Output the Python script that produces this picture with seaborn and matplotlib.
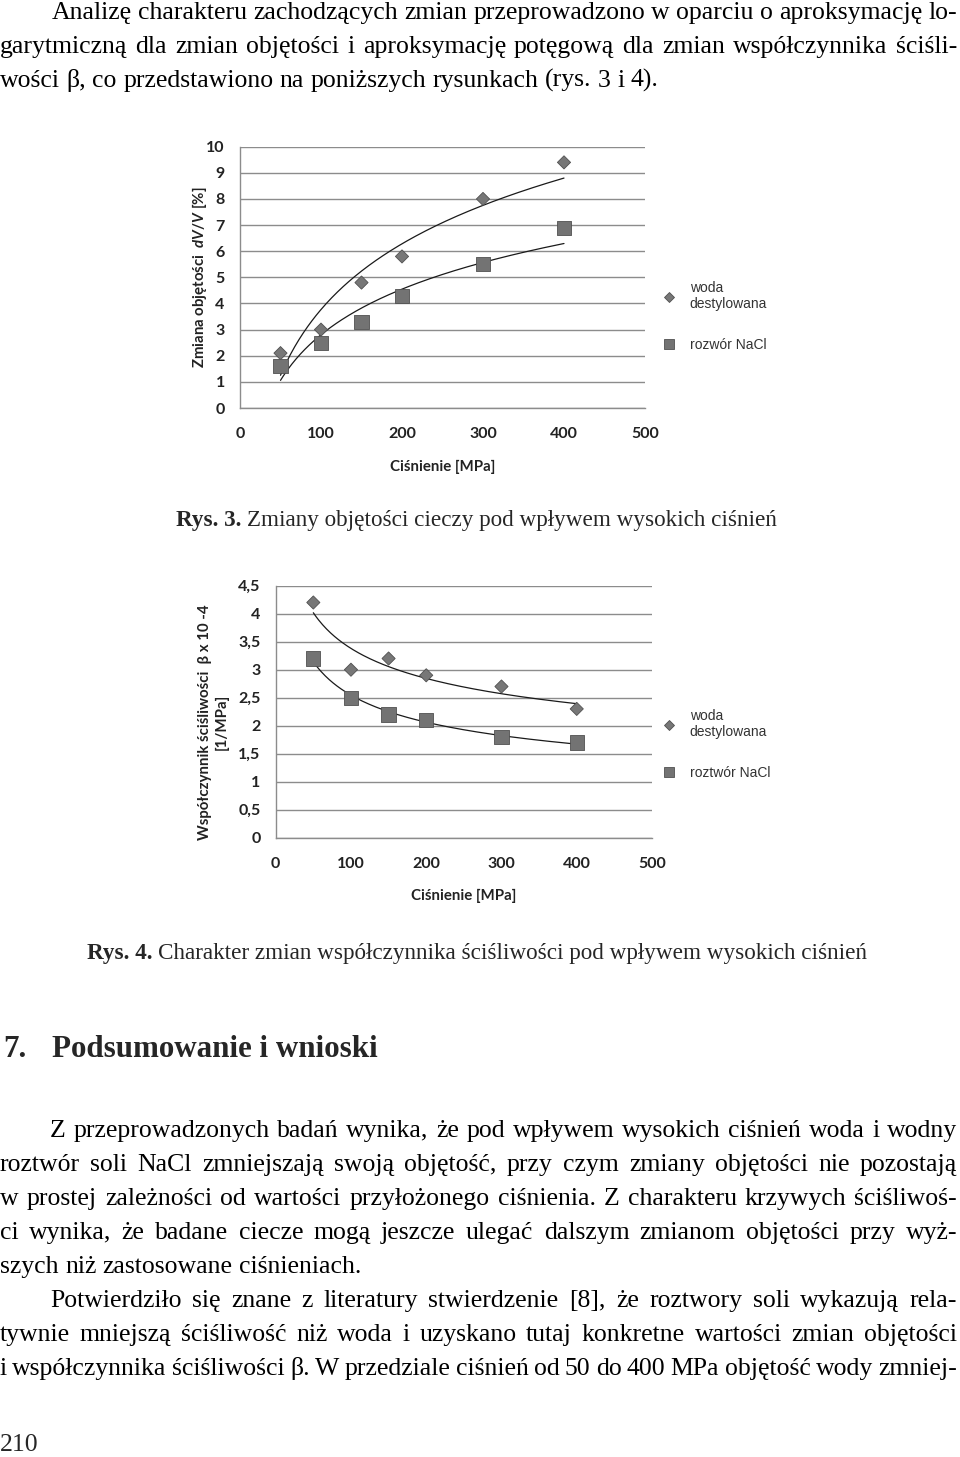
import numpy as np
import pandas as pd
import matplotlib
import matplotlib.pyplot as plt
import matplotlib.ticker as mticker
import seaborn as sns
matplotlib.use("Agg")

# --- data ---
pressure = [50, 100, 150, 200, 300, 400]
dv_water = [2.1, 3.0, 4.8, 5.8, 8.0, 9.4]
dv_nacl = [1.6, 2.5, 3.3, 4.3, 5.5, 6.9]
beta_water = [4.2, 3.0, 3.2, 2.9, 2.7, 2.3]
beta_nacl = [3.2, 2.5, 2.2, 2.1, 1.8, 1.7]

x_ticks = [0, 100, 200, 300, 400, 500]
dv_ticks = [0, 1, 2, 3, 4, 5, 6, 7, 8, 9, 10]
beta_ticks = [0, 0.5, 1, 1.5, 2, 2.5, 3, 3.5, 4, 4.5]

water_label = "woda\ndestylowana"
nacl_label_3 = "rozwór NaCl"
nacl_label_4 = "roztwór NaCl"

# --- page text ---
para1 = [
    "Analizę charakteru zachodzących zmian przeprowadzono w oparciu o aproksymację lo-",
    "garytmiczną dla zmian objętości i aproksymację potęgową dla zmian współczynnika ściśli-",
    "wości β, co przedstawiono na poniższych rysunkach (rys. 3 i 4).",
]
para2 = [
    "Z przeprowadzonych badań wynika, że pod wpływem wysokich ciśnień woda i wodny",
    "roztwór soli NaCl zmniejszają swoją objętość, przy czym zmiany objętości nie pozostają",
    "w prostej zależności od wartości przyłożonego ciśnienia. Z charakteru krzywych ściśliwoś-",
    "ci wynika, że badane ciecze mogą jeszcze ulegać dalszym zmianom objętości przy wyż-",
    "szych niż zastosowane ciśnieniach.",
]
para3 = [
    "Potwierdziło się znane z literatury stwierdzenie [8], że roztwory soli wykazują rela-",
    "tywnie mniejszą ściśliwość niż woda i uzyskano tutaj konkretne wartości zmian objętości",
    "i współczynnika ściśliwości β. W przedziale ciśnień od 50 do 400 MPa objętość wody zmniej-",
]
caption3 = ("Rys. 3.", "Zmiany objętości cieczy pod wpływem wysokich ciśnień")
caption4 = ("Rys. 4.", "Charakter zmian współczynnika ściśliwości pod wpływem wysokich ciśnień")
heading = ("7.", "Podsumowanie i wnioski")
page_no = "210"

W, H = 960, 1457
SERIF = ["Liberation Serif", "DejaVu Serif"]
BODY = 18.5


def fx(px):
    return px / W


def fy(py):
    return 1 - py / H


def put_line(fig, r, text, y, x0, x1=None, size=BODY, weight="normal"):
    words = text.split(" ")
    objs = [fig.text(0, 0, w, fontsize=size, fontweight=weight, family=SERIF,
                     va="baseline", ha="left", color="black") for w in words]
    widths = [o.get_window_extent(r).width for o in objs]
    if x1 is None or len(words) == 1:
        gap = 0.25 * size * 100 / 72
    else:
        gap = (x1 - x0 - sum(widths)) / (len(words) - 1)
    x = x0
    for o, w in zip(objs, widths):
        o.set_position((fx(x), fy(y)))
        x += w + gap


def put_paragraph(fig, r, lines, y0, indent, step=34, right=957,
                  justify_last=False):
    for i, line in enumerate(lines):
        last = i == len(lines) - 1 and not justify_last
        put_line(fig, r, line, y0 + i * step, indent if i == 0 else 0,
                 None if last else right)


def put_caption(fig, r, parts, y, x0, x1):
    bold = fig.text(0, 0, parts[0], fontsize=BODY, fontweight="bold",
                    family=SERIF, va="baseline")
    rest = fig.text(0, 0, parts[1], fontsize=BODY, family=SERIF, va="baseline")
    sp = 0.25 * BODY * 100 / 72
    total = (bold.get_window_extent(r).width + sp
             + rest.get_window_extent(r).width)
    size = BODY * (x1 - x0) / total
    bold.set_fontsize(size)
    rest.set_fontsize(size)
    wb = bold.get_window_extent(r).width
    bold.set_position((fx(x0), fy(y)))
    rest.set_position((fx(x0 + wb + 0.25 * size * 100 / 72), fy(y)))


def comma_fmt(v, pos):
    if abs(v - round(v)) < 1e-9:
        return f"{int(round(v))}"
    return f"{v:g}".replace(".", ",")


def chart(fig, rect, water, nacl, nacl_label, fit, yticks, ylabel,
          legend_xy, ylabelpad):
    ax = fig.add_axes(rect)
    df = pd.DataFrame({
        "p": pressure + pressure,
        "v": water + nacl,
        "ciecz": [water_label] * len(water) + [nacl_label] * len(nacl),
    })
    sns.scatterplot(
        data=df, x="p", y="v", hue="ciecz", style="ciecz", size="ciecz",
        palette={water_label: "#777777", nacl_label: "#737373"},
        markers={water_label: "D", nacl_label: "s"},
        sizes={water_label: 45, nacl_label: 105},
        edgecolor="#505050", linewidth=0.6, ax=ax, zorder=3,
    )
    xs = np.linspace(min(pressure), max(pressure), 200)
    for vals in (water, nacl):
        if fit == "log":
            a, b = np.polyfit(np.log(pressure), vals, 1)
            ys = a * np.log(xs) + b
        else:
            a, b = np.polyfit(np.log(pressure), np.log(vals), 1)
            ys = np.exp(b) * xs ** a
        ax.plot(xs, ys, color="#1a1a1a", lw=0.9, zorder=2)

    ax.set_xlim(0, 500)
    ax.set_ylim(0, yticks[-1])
    ax.set_xticks(x_ticks)
    ax.set_yticks(yticks)
    ax.yaxis.set_major_formatter(mticker.FuncFormatter(comma_fmt))
    ax.grid(False)
    ax.yaxis.grid(True, color="#8c8c8c", lw=1)
    ax.set_axisbelow(True)
    for s in ["top", "right"]:
        ax.spines[s].set_visible(False)
    for s in ["left", "bottom"]:
        ax.spines[s].set_color("#8c8c8c")
        ax.spines[s].set_linewidth(1)
    ax.tick_params(length=4, width=1, color="#8c8c8c", labelsize=11.5,
                   labelcolor="#222222", direction="out")
    ax.tick_params(axis="x", pad=10)
    ax.tick_params(axis="y", pad=7)
    for t in ax.get_xticklabels() + ax.get_yticklabels():
        t.set_fontweight("bold")
    ax.set_xlabel("Ciśnienie [MPa]", fontsize=10.8, fontweight="bold",
                  color="#222222", labelpad=13)
    ax.set_ylabel(ylabel, fontsize=10.8, fontweight="bold", color="#222222",
                  labelpad=ylabelpad, multialignment="center")
    sns.move_legend(
        ax, "upper left", bbox_to_anchor=(fx(legend_xy[0]), fy(legend_xy[1])),
        bbox_transform=fig.transFigure, title=None, frameon=False,
        prop={"family": ["Liberation Sans", "DejaVu Sans"], "size": 10},
        labelspacing=1.9, handlelength=1.0, handletextpad=1.0,
        borderpad=0, borderaxespad=0, markerscale=0.7,
    )
    for t in ax.get_legend().get_texts():
        t.set_color("#333333")
    return ax


def main():
    sns.set_style("white")
    plt.rcParams["font.family"] = ["Lato", "DejaVu Sans"]
    plt.rcParams["mathtext.fontset"] = "custom"
    plt.rcParams["mathtext.it"] = "Lato:italic:bold"
    plt.rcParams["mathtext.rm"] = "Lato:bold"

    fig = plt.figure(figsize=(W / 100, H / 100), dpi=100)
    fig.patch.set_facecolor("white")
    r = fig.canvas.get_renderer()

    put_paragraph(fig, r, para1, 19, 52)

    chart(fig, [fx(240), fy(408), fx(645) - fx(240), fy(146.7) - fy(408)],
          dv_water, dv_nacl, nacl_label_3, "log", dv_ticks,
          "Zmiana objętości  $dV/V$ [%]", (662, 281), -2)
    put_caption(fig, r, caption3, 526, 176, 779)

    ax2 = chart(fig, [fx(275.7), fy(837.7), fx(652) - fx(275.7),
                      fy(585.7) - fy(837.7)],
                beta_water, beta_nacl, nacl_label_4, "power", beta_ticks,
                "Współczynnik ściśliwości  β x 10 -4\n[1/MPa]", (662, 709), 7)
    ax2.yaxis.set_label_coords(-0.125, 0.46)
    put_caption(fig, r, caption4, 959, 87, 870)

    fig.text(fx(3), fy(1057), heading[0], fontsize=22.3, fontweight="bold",
             family=SERIF, va="baseline")
    fig.text(fx(52), fy(1057), heading[1], fontsize=22.3, fontweight="bold",
             family=SERIF, va="baseline")

    put_paragraph(fig, r, para2, 1137, 50)
    # the last line of this paragraph runs over the page break
    put_paragraph(fig, r, para3, 1307, 50, justify_last=True)

    fig.text(fx(0), fy(1451), page_no, fontsize=BODY, family=SERIF,
             va="baseline")

    fig.savefig("out.png", dpi=100, facecolor="white")
    plt.close(fig)


if __name__ == "__main__":
    main()
